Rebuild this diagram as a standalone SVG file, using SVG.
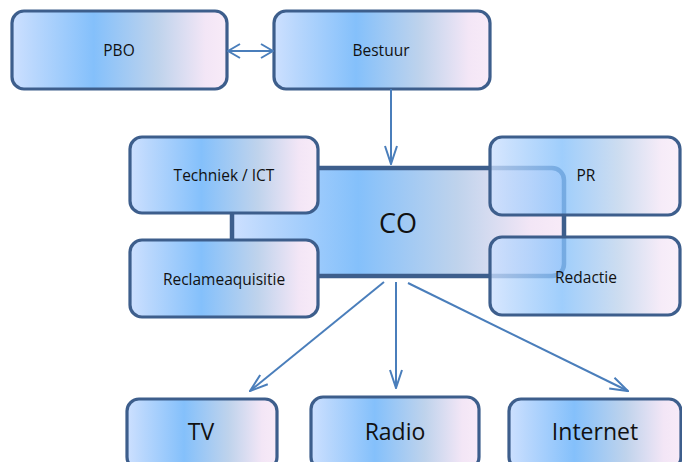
<svg xmlns="http://www.w3.org/2000/svg" width="682" height="462" viewBox="0 0 682 462">
<defs>
<linearGradient id="g" x1="0" y1="0" x2="1" y2="0">
<stop offset="0" stop-color="#cde0ff"/>
<stop offset="0.1" stop-color="#b9d7fd"/>
<stop offset="0.38" stop-color="#84c0fb"/>
<stop offset="0.68" stop-color="#bfd3ec"/>
<stop offset="0.9" stop-color="#f3e6f6"/>
<stop offset="1" stop-color="#f8ebf8"/>
</linearGradient>
<marker id="ah" viewBox="0 0 20 14" refX="19" refY="7" markerWidth="20" markerHeight="14" markerUnits="userSpaceOnUse" orient="auto-start-reverse">
<path d="M1,1 L19,7 L1,13" fill="none" stroke="#4a7ebb" stroke-width="2"/>
</marker>
<marker id="ah2" viewBox="0 0 14 16" refX="13" refY="8" markerWidth="14" markerHeight="16" markerUnits="userSpaceOnUse" orient="auto-start-reverse">
<path d="M1,1 L13,8 L1,15" fill="none" stroke="#4a7ebb" stroke-width="2"/>
</marker>
</defs>
<style>
.box{fill:url(#g);stroke:#3d5e8c;stroke-width:3.2}
.over{fill:url(#g);fill-opacity:0.78;stroke:#3d5e8c;stroke-width:3.2}
.co{fill:url(#g);stroke:#3d5e8c;stroke-width:4.5}
.t{font-family:"Open Sans","Liberation Sans",sans-serif;font-size:15.5px;fill:#111111;text-anchor:middle}
.tb{font-family:"Open Sans","Liberation Sans",sans-serif;font-size:23px;fill:#111111;text-anchor:middle}
.tc{font-family:"Open Sans","Liberation Sans",sans-serif;font-size:27px;fill:#111111;text-anchor:middle}
.c{fill:none;stroke:#4a7ebb;stroke-width:2}
</style>
<rect width="682" height="462" fill="#ffffff"/>
<g id="PBO"><rect class="box" x="12" y="11" width="215" height="78" rx="12"/><text class="t" x="119" y="56">PBO</text></g>
<g id="Bestuur"><rect class="box" x="274" y="11" width="216" height="78" rx="12"/><text class="t" x="381" y="56">Bestuur</text></g>
<g id="CO"><rect class="co" x="232" y="168" width="332" height="108" rx="12"/><text class="tc" x="398" y="233">CO</text></g>
<g id="Techniek"><rect class="box" x="130" y="137" width="188" height="76" rx="12"/><text class="t" x="224" y="181">Techniek / ICT</text></g>
<g id="Reclameaquisitie"><rect class="box" x="130" y="240" width="188" height="77" rx="12"/><text class="t" x="224" y="285">Reclameaquisitie</text></g>
<g id="PR"><rect class="over" x="490" y="137" width="190" height="78" rx="12"/><text class="t" x="586" y="181">PR</text></g>
<g id="Redactie"><rect class="over" x="490" y="237" width="190" height="78" rx="12"/><text class="t" x="586" y="283">Redactie</text></g>
<g id="TV"><rect class="box" x="127" y="399" width="150" height="70" rx="12"/><text class="tb" x="201" y="440">TV</text></g>
<g id="Radio"><rect class="box" x="311" y="397" width="168" height="72" rx="12"/><text class="tb" x="395" y="440">Radio</text></g>
<g id="Internet"><rect class="box" x="509" y="399" width="172" height="70" rx="12"/><text class="tb" x="595" y="440">Internet</text></g>
<g id="connectors">
<line class="c" x1="228" y1="51" x2="273" y2="51" marker-start="url(#ah2)" marker-end="url(#ah2)"/>
<line class="c" x1="391" y1="89" x2="391" y2="164" marker-end="url(#ah)"/>
<line class="c" x1="384" y1="282" x2="250" y2="391" marker-end="url(#ah)"/>
<line class="c" x1="396" y1="282" x2="396" y2="388" marker-end="url(#ah)"/>
<line class="c" x1="408" y1="283" x2="628" y2="391" marker-end="url(#ah)"/>
</g>
</svg>
